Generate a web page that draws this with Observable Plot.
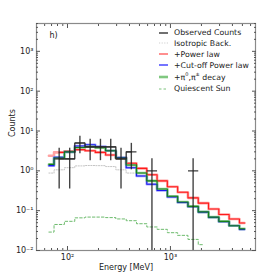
<!DOCTYPE html>
<html><head><meta charset="utf-8">
<script src="https://cdn.jsdelivr.net/npm/d3@7"></script>
<script src="https://cdn.jsdelivr.net/npm/@observablehq/plot@0.6"></script>
<style>
body{margin:0;background:#fff;font-family:"DejaVu Sans",sans-serif;}
#wrap{position:relative;width:275px;height:279px;}
#legend{position:absolute;left:0;top:0;font-size:7.8px;color:#222;}
.row{position:absolute;left:159px;display:flex;align-items:center;height:11px;white-space:nowrap;}
.row svg{margin-right:6px}
sup{font-size:5px;vertical-align:4px;line-height:0}
</style></head><body><div id="wrap"><div id="legend"></div></div>
<script>
// Energy bin centres [MeV]
const energy = [66, 83, 105, 132, 166, 209, 263, 331, 417, 525, 661, 832, 1047, 1318, 1660, 2089, 2630, 3311, 4169, 5248];
// model counts per bin
const powerLaw = [2.4, 2.9, 3.1, 3.4, 3.2, 2.9, 2.5, 2.1, 1.55, 1.15, 0.8, 0.56, 0.4, 0.29, 0.21, 0.155, 0.11, 0.08, 0.062, 0.049];
const cutoffPL = [1.35, 2.2, 3.0, 4.2, 4.5, 4.1, 3.2, 2.15, 1.2, 0.74, 0.46, 0.32, 0.22, 0.16, 0.125, 0.092, 0.068, 0.053, 0.042, 0.034];
const pionDecay = [1.45, 2.1, 3.0, 3.85, 4.05, 3.8, 3.2, 2.1, 1.4, 0.88, 0.56, 0.35, 0.23, 0.165, 0.128, 0.093, 0.069, 0.054, 0.042, 0.035];
const isotropic = [0.88, 1.06, 1.2, 1.33, 1.36, 1.35, 1.28, 1.06, 0.88, 0.74];
const quietSun = [0.029, 0.045, 0.054, 0.066, 0.069, 0.069, 0.067, 0.062, 0.056, 0.047, 0.039, 0.034, 0.028, 0.024, 0.019, 0.014];
// observed counts (bin index, counts, error range)
const obsBin = [1, 2, 3, 4, 5, 6, 7, 8, 10, 14];
const obsCounts = [2, 2, 5, 4, 4, 4, 2, 3, 1, 1];
const obsHi = [3.7, 3.7, 7.4, 6.2, 6.2, 6.2, 3.7, 4.9, 2.0, 2.0];
const obsLo = [0.35, 0.35, 2.7, 1.8, 1.8, 1.8, 0.35, 1.06, 0.0001, 0.0001];
// ticks
const xMajor = [100, 1000];
const xMinor = [60, 70, 80, 90, 200, 300, 400, 500, 600, 700, 800, 900, 2000, 3000, 4000, 5000, 6000];
const yMajor = [0.01, 0.1, 1, 10, 100, 1000];
const yMinor = [0.02,0.03,0.04,0.05,0.06,0.07,0.08,0.09,0.2,0.3,0.4,0.5,0.6,0.7,0.8,0.9,2,3,4,5,6,7,8,9,20,30,40,50,60,70,80,90,200,300,400,500,600,700,800,900,2000,3000,4000,5000];

const supMap = {"0":"⁰","1":"¹","2":"²","3":"³","4":"⁴","5":"⁵","6":"⁶","7":"⁷","8":"⁸","9":"⁹","-":"⁻"};
const fmt = d => "10" + String(Math.round(Math.log10(d))).split("").map(c => supMap[c]).join("");

const models = energy.map((e, i) => ({e, pl: powerLaw[i], cpl: cutoffPL[i], pi: pionDecay[i]}));
const iso = isotropic.map((v, i) => ({e: energy[i], v}));
const qs = quietSun.map((v, i) => ({e: energy[i], v}));
const halfBin = Math.sqrt(energy[1] / energy[0]);
const obs = obsBin.map((b, i) => ({e: energy[b], c: obsCounts[i], hi: obsHi[i], lo: obsLo[i], e1: energy[b] / halfBin, e2: energy[b] * halfBin}));
const obsStep = obs.slice(0, 8);

const tickStroke = "#555";
const plot = Plot.plot({
  width: 275, height: 279,
  marginLeft: 36, marginRight: 20, marginTop: 23, marginBottom: 29,
  style: {fontFamily: "DejaVu Sans", fontSize: "8px", background: "white", color: "#222", overflow: "visible"},
  x: {type: "log", domain: [50, 6700]},
  y: {type: "log", domain: [0.01, 5000]},
  marks: [
    Plot.line(iso, {x: "e", y: "v", curve: "step", stroke: "#c4c4c4", strokeWidth: 1, strokeDasharray: "1.2,1.4"}),
    Plot.line(qs, {x: "e", y: "v", curve: "step", stroke: "#6dbb6d", strokeWidth: 1, strokeDasharray: "2.5,2"}),
    Plot.line(models, {x: "e", y: "pl", curve: "step", stroke: "#ff8a8a", strokeWidth: 2.6, strokeOpacity: 0.8}),
    Plot.line(models, {x: "e", y: "cpl", curve: "step", stroke: "#8c8cff", strokeWidth: 2.6, strokeOpacity: 0.8}),
    Plot.line(models, {x: "e", y: "pi", curve: "step", stroke: "#8fcf8f", strokeWidth: 2.6, strokeOpacity: 0.9}),
    Plot.line(models.slice(1), {x: "e", y: "pl", curve: "step", stroke: "#ff1a1a", strokeWidth: 1.1}),
    Plot.line(models, {x: "e", y: "cpl", curve: "step", stroke: "#1a1aee", strokeWidth: 1.1}),
    Plot.line(models, {x: "e", y: "pi", curve: "step", stroke: "#15801a", strokeWidth: 1.1}),
    Plot.line(obsStep, {x: "e", y: "c", curve: "step", stroke: "#222", strokeWidth: 1.2}),
    Plot.link(obs, {x1: "e1", x2: "e2", y1: "c", y2: "c", stroke: "#333", strokeOpacity: 0.75, strokeWidth: 1.6}),
    Plot.ruleX(obs, {x: "e", y1: "lo", y2: "hi", stroke: "#222", strokeOpacity: 0.85, strokeWidth: 1.4, clip: true}),
    Plot.frame({stroke: "#8a8a8a", strokeWidth: 1.2}),
    Plot.axisX({anchor: "bottom", ticks: xMajor, tickSize: 0, tickPadding: 4, tickFormat: fmt, label: null, fontSize: 8}),
    Plot.axisX({anchor: "bottom", ticks: xMajor, tickSize: -4, tickFormat: () => "", label: null, stroke: tickStroke}),
    Plot.axisX({anchor: "top", ticks: xMajor, tickSize: -4, tickFormat: () => "", label: null, stroke: tickStroke}),
    Plot.axisX({anchor: "bottom", ticks: xMinor, tickSize: -2, tickFormat: () => "", label: null, stroke: tickStroke}),
    Plot.axisX({anchor: "top", ticks: xMinor, tickSize: -2, tickFormat: () => "", label: null, stroke: tickStroke}),
    Plot.axisY({anchor: "left", ticks: yMajor, tickSize: 0, tickPadding: 3, tickFormat: fmt, label: null, fontSize: 8}),
    Plot.axisY({anchor: "left", ticks: yMajor, tickSize: -4, tickFormat: () => "", label: null, stroke: tickStroke}),
    Plot.axisY({anchor: "right", ticks: yMajor, tickSize: -4, tickFormat: () => "", label: null, stroke: tickStroke}),
    Plot.axisY({anchor: "left", ticks: yMinor, tickSize: -2, tickFormat: () => "", label: null, stroke: tickStroke}),
    Plot.axisY({anchor: "right", ticks: yMinor, tickSize: -2, tickFormat: () => "", label: null, stroke: tickStroke}),
    Plot.text(["h)"], {frameAnchor: "top-left", dx: 13, dy: 12, lineAnchor: "middle", textAnchor: "start", fontSize: 8, fill: "#222"}),
    Plot.text(["Energy [MeV]"], {frameAnchor: "bottom", dx: -20, dy: 17, lineAnchor: "middle", fontSize: 8, fill: "#222"}),
    Plot.text(["Counts"], {frameAnchor: "left", dx: -24, rotate: -90, lineAnchor: "middle", fontSize: 8, fill: "#222"})
  ]
});
const wrap = document.getElementById("wrap");
wrap.insertBefore(plot, wrap.firstChild);

// legend
const legendItems = [
  {label: "Observed Counts", stroke: "#222", width: 1.3, dash: null, top: 32.5},
  {label: "Isotropic Back.", stroke: "#d0d0d0", width: 1.2, dash: "1.2,1.4", top: 43.3},
  {label: "+Power law", stroke: "#ff6a6a", width: 1.5, dash: null, top: 54},
  {label: "+Cut-off Power law", stroke: "#2a2aff", width: 1.3, dash: null, top: 65},
  {label: "+π<sup>0</sup>,π<sup>±</sup> decay", stroke: "#80c880", width: 2.6, dash: null, top: 77.3},
  {label: "Quiescent Sun", stroke: "#7cc27c", width: 1, dash: "2.5,2", top: 88.5}
];
const leg = document.getElementById("legend");
for (const it of legendItems) {
  const row = document.createElement("div");
  row.className = "row";
  row.style.top = (it.top - 5.5) + "px";
  row.innerHTML = `<svg width="9" height="6"><line x1="0" x2="9" y1="3" y2="3" stroke="${it.stroke}" stroke-width="${it.width}" ${it.dash ? `stroke-dasharray="${it.dash}"` : ""}/></svg><span>${it.label}</span>`;
  leg.appendChild(row);
}
</script>
</body></html>
